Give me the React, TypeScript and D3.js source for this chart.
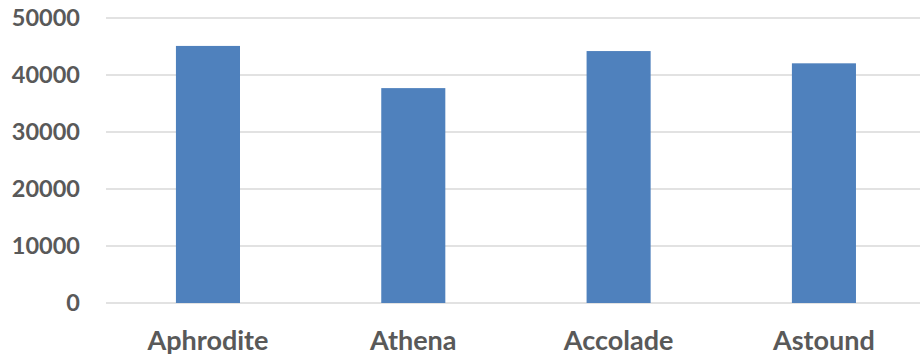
import React from "react";
import * as d3 from "d3";

const categories = ["Aphrodite", "Athena", "Accolade", "Astound"];
const values = [45100, 37700, 44200, 42050];
const yTicks = [0, 10000, 20000, 30000, 40000, 50000];

const W = 920;
const H = 357;

export default function App() {
  const x = d3
    .scaleBand<string>()
    .domain(categories)
    .range([105.3, 926.6])
    .paddingInner(0.688)
    .paddingOuter(0.688 / 2);
  const y = d3.scaleLinear().domain([0, 50000]).range([303, 18]);
  const font = "Lato, 'Open Sans', sans-serif";
  return (
    <svg
      width={W}
      height={H}
      style={{ position: "absolute", left: 0, top: 0, background: "#fff" }}
    >
      {yTicks.map((t) => (
        <g key={t}>
          <line x1={106} x2={920} y1={y(t)} y2={y(t)} stroke="#D9D9D9" strokeWidth={1.5} />
          <text
            x={80}
            y={y(t)}
            dy="0.36em"
            textAnchor="end"
            fontFamily={font}
            fontWeight="bold"
            fontSize={23.5}
            fill="#595959"
          >
            {t}
          </text>
        </g>
      ))}
      {categories.map((c, i) => (
        <g key={c}>
          <rect
            x={x(c)}
            y={y(values[i])}
            width={x.bandwidth()}
            height={y(0) - y(values[i])}
            fill="#4F81BD"
          />
          <text
            x={(x(c) as number) + x.bandwidth() / 2}
            y={349.5}
            textAnchor="middle"
            fontFamily={font}
            fontWeight="bold"
            fontSize={27}
            fill="#595959"
          >
            {c}
          </text>
        </g>
      ))}
    </svg>
  );
}
